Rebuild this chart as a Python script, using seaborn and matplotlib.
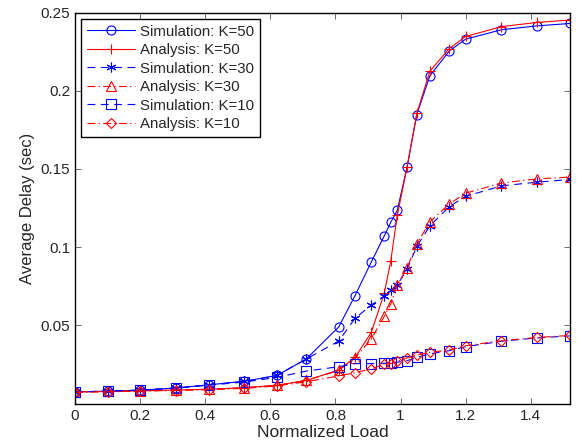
import numpy as np
import pandas as pd
import matplotlib
matplotlib.use('Agg')
import matplotlib.pyplot as plt
import seaborn as sns

# Carga normalizada (eje x común)
load = [0, 0.1, 0.2, 0.31, 0.41, 0.52, 0.62, 0.71, 0.81, 0.86, 0.91,
        0.95, 0.97, 0.99, 1.02, 1.05, 1.09, 1.15, 1.2, 1.31, 1.42, 1.52]

# Retardo medio (s)
sim_k50 = [0.0075, 0.0080, 0.0086, 0.0100, 0.0120, 0.0143, 0.0180, 0.0285,
           0.0490, 0.0690, 0.0905, 0.1072, 0.1160, 0.1235, 0.1512, 0.1848,
           0.2095, 0.2255, 0.2330, 0.2390, 0.2415, 0.2430]
ana_k50 = [0.0075, 0.0078, 0.0082, 0.0087, 0.0092, 0.0102, 0.0117, 0.0148,
           0.0215, 0.0295, 0.0455, 0.0705, 0.0912, 0.1205, 0.1510, 0.1855,
           0.2125, 0.2270, 0.2347, 0.2410, 0.2437, 0.2452]
sim_k30 = [0.0075, 0.0080, 0.0086, 0.0100, 0.0120, 0.0142, 0.0180, 0.0285,
           0.0400, 0.0545, 0.0630, 0.0688, 0.0725, 0.0758, 0.0858, 0.1005,
           0.1136, 0.1260, 0.1325, 0.1392, 0.1416, 0.1433]
ana_k30 = [0.0075, 0.0078, 0.0082, 0.0087, 0.0092, 0.0102, 0.0117, 0.0148,
           0.0212, 0.0293, 0.0413, 0.0558, 0.0638, 0.0758, 0.0868, 0.1020,
           0.1162, 0.1277, 0.1345, 0.1410, 0.1437, 0.1448]
sim_k10 = [0.0075, 0.0080, 0.0086, 0.0099, 0.0118, 0.0138, 0.0168, 0.0208,
           0.0236, 0.0256, 0.0256, 0.0258, 0.0262, 0.0265, 0.0275, 0.0295,
           0.0318, 0.0339, 0.0364, 0.0399, 0.0420, 0.0433]
ana_k10 = [0.0072, 0.0076, 0.0080, 0.0084, 0.0089, 0.0098, 0.0113, 0.0140,
           0.0177, 0.0198, 0.0222, 0.0253, 0.0256, 0.0270, 0.0292, 0.0310,
           0.0328, 0.0343, 0.0370, 0.0402, 0.0423, 0.0436]

dashed = (0, (7, 5))
dashdot = (0, (7, 3, 1.2, 3))
asterisk = (6, 2, 0)

series = [
    ('Simulation: K=50', sim_k50, 'blue', '-', 'o'),
    ('Analysis: K=50', ana_k50, 'red', '-', '+'),
    ('Simulation: K=30', sim_k30, 'blue', dashed, asterisk),
    ('Analysis: K=30', ana_k30, 'red', dashdot, '^'),
    ('Simulation: K=10', sim_k10, 'blue', dashed, 's'),
    ('Analysis: K=10', ana_k10, 'red', dashdot, 'D'),
]

sns.set_style('ticks')
plt.rcParams['font.family'] = ['Liberation Sans', 'DejaVu Sans']

fig = plt.figure(figsize=(5.82, 4.48), dpi=100)
ax = fig.add_axes([0.129, 0.099, 0.850, 0.873])

for name, vals, col, ls, mk in series:
    df = pd.DataFrame({'load': load, 'delay': vals})
    if mk == 'D':
        ms = 5.2
    elif mk in ('+', asterisk):
        ms = 7
    else:
        ms = 6.5
    sns.lineplot(
        data=df, x='load', y='delay', ax=ax,
        estimator=None, sort=False,
        color=col, linestyle=ls, linewidth=0.8,
        marker=mk, markersize=ms,
        markerfacecolor='none', markeredgecolor=col, markeredgewidth=0.8,
        label=name
    )

ax.set_xlim(0, 1.52)
ax.set_ylim(0, 0.25)
ax.set_xticks([0, 0.2, 0.4, 0.6, 0.8, 1, 1.2, 1.4])
ax.set_xticklabels(['0', '0.2', '0.4', '0.6', '0.8', '1', '1.2', '1.4'])
ax.set_yticks([0.05, 0.1, 0.15, 0.2, 0.25])
ax.set_yticklabels(['0.05', '0.1', '0.15', '0.2', '0.25'])
ax.tick_params(direction='in', top=True, right=True, labelsize=11,
               length=4, width=0.6, color='#555555')
for s in ax.spines.values():
    s.set_linewidth(1.0)
    s.set_color('black')

ax.set_xlabel('Normalized Load', fontsize=12.5, labelpad=2)
ax.set_ylabel('Average Delay (sec)', fontsize=12, labelpad=4)

leg = ax.legend(loc='upper left', fontsize=10.8, frameon=True, fancybox=False,
                framealpha=1, edgecolor='black', handlelength=3.2,
                borderaxespad=0.4, labelspacing=0.3, handletextpad=0.3,
                borderpad=0.4)
leg.get_frame().set_linewidth(1.0)

fig.savefig('out.png', dpi=100)
